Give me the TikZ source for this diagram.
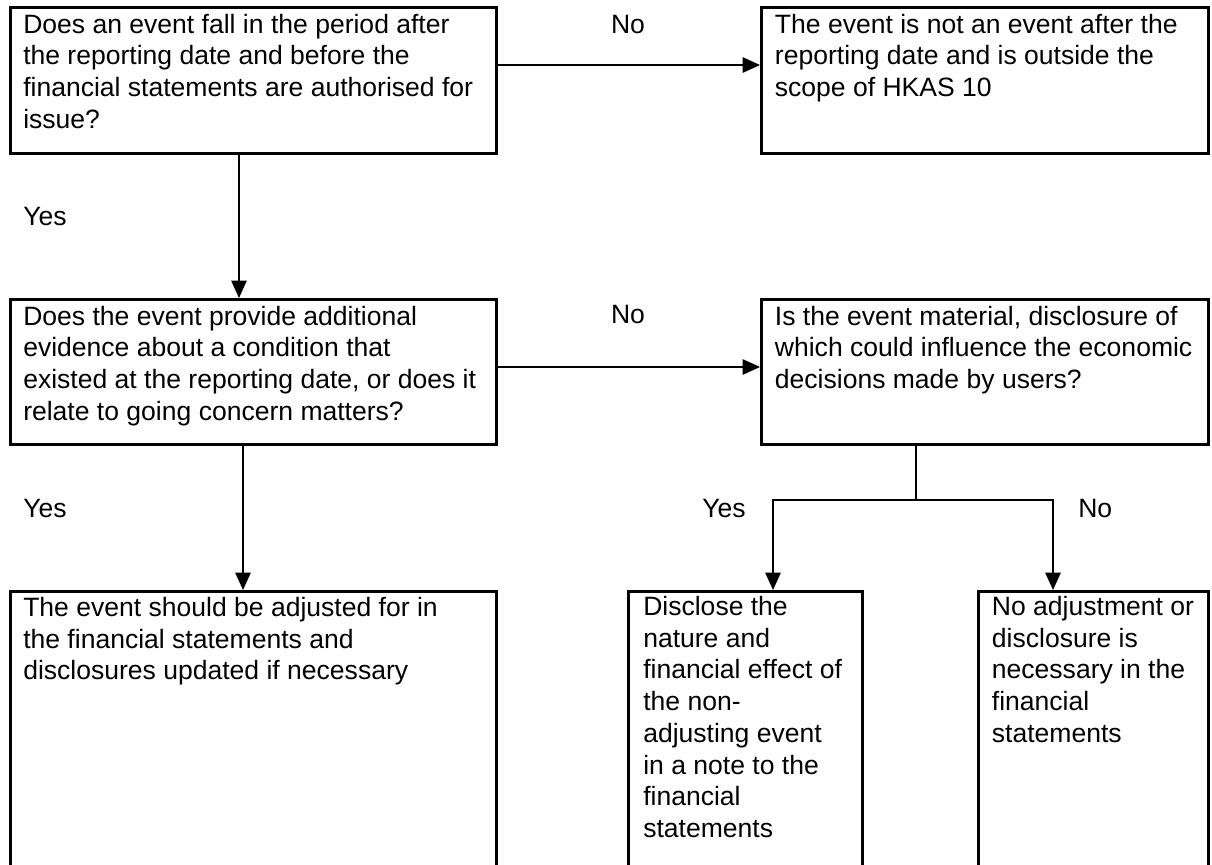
\documentclass[tikz,border=0pt]{standalone}
\usepackage{fontspec}
\setmainfont{Liberation Sans}
\usetikzlibrary{arrows.meta,calc}
\tikzset{
  box/.style={draw=black, line width=2pt, rectangle, inner sep=0pt, anchor=north west},
  txt/.style={anchor=north west, inner sep=0pt, align=left, font=\fontsize{19.9pt}{23.8pt}\selectfont},
  lbl/.style={inner sep=0pt, font=\fontsize{19.9pt}{23.8pt}\selectfont},
  arr/.style={draw=black, line width=1.2pt, -{Triangle[length=13pt,width=11.5pt]}},
  ln/.style={draw=black, line width=1.2pt}
}
\begin{document}
\begin{tikzpicture}[x=0.75pt,y=-0.75pt]
\useasboundingbox (0,0) rectangle (1212,864);
\fill[white] (0,0) rectangle (1212,864);
% boxes
\node[box, minimum width=364.5pt, minimum height=109.5pt] (A) at (9,6) {};
\node[box, minimum width=335.25pt, minimum height=109.5pt] (B) at (760,6) {};
\node[box, minimum width=364.5pt, minimum height=108.75pt] (C) at (9,298) {};
\node[box, minimum width=335.25pt, minimum height=108.75pt] (D) at (760,298) {};
\node[box, minimum width=364.5pt, minimum height=212pt] (E) at (9,590) {};
\node[box, minimum width=175.5pt, minimum height=212pt] (F) at (627,590) {};
\node[box, minimum width=172.5pt, minimum height=212pt] (G) at (977,590) {};
% texts
\node[txt] (tA) at ([xshift=10.5pt,yshift=-5.75pt]A.north west) {Does an event fall in the period after\\the reporting date and before the\\financial statements are authorised for\\issue?};
\node[txt] (tB) at ([xshift=11pt,yshift=-5.75pt]B.north west) {The event is not an event after the\\reporting date and is outside the\\scope of HKAS 10};
\node[txt] (tC) at ([xshift=10.5pt,yshift=-5.75pt]C.north west) {Does the event provide additional\\evidence about a condition that\\existed at the reporting date, or does it\\relate to going concern matters?};
\node[txt] (tD) at ([xshift=11pt,yshift=-5.75pt]D.north west) {Is the event material, disclosure of\\which could influence the economic\\decisions made by users?};
\node[txt] (tE) at ([xshift=10.5pt,yshift=-5.25pt]E.north west) {The event should be adjusted for in\\the financial statements and\\disclosures updated if necessary};
\node[txt] (tF) at ([xshift=12pt,yshift=-4.5pt]F.north west) {Disclose the\\nature and\\financial effect of\\the non-\\adjusting event\\in a note to the\\financial\\statements};
\node[txt] (tG) at ([xshift=11pt,yshift=-4.5pt]G.north west) {No adjustment or\\disclosure is\\necessary in the\\financial\\statements};
% labels
\node[lbl, anchor=base] (no1) at (628,33) {No};
\node[lbl, anchor=base] (no2) at (628,323) {No};
\node[lbl, anchor=base west] (yes1) at (23,225) {Yes};
\node[lbl, anchor=base west] (yes2) at (23,517) {Yes};
\node[lbl, anchor=base west] (yes3) at (702,517) {Yes};
\node[lbl, anchor=base west] (no3) at (1078,517) {No};
% connectors
\draw[arr] (A.east |- 0,65) -- (B.west |- 0,65);
\draw[arr] (A.south -| 239,0) -- (C.north -| 239,0);
\draw[arr] (C.east |- 0,367) -- (D.west |- 0,367);
\draw[arr] (C.south -| 243,0) -- (E.north -| 243,0);
\coordinate (j) at (916,500);
\draw[ln] (D.south -| j) -- (j);
\draw[arr] (j) -| (F.north -| 773,0);
\draw[arr] (j) -| (G.north -| 1053,0);
\end{tikzpicture}
\end{document}
